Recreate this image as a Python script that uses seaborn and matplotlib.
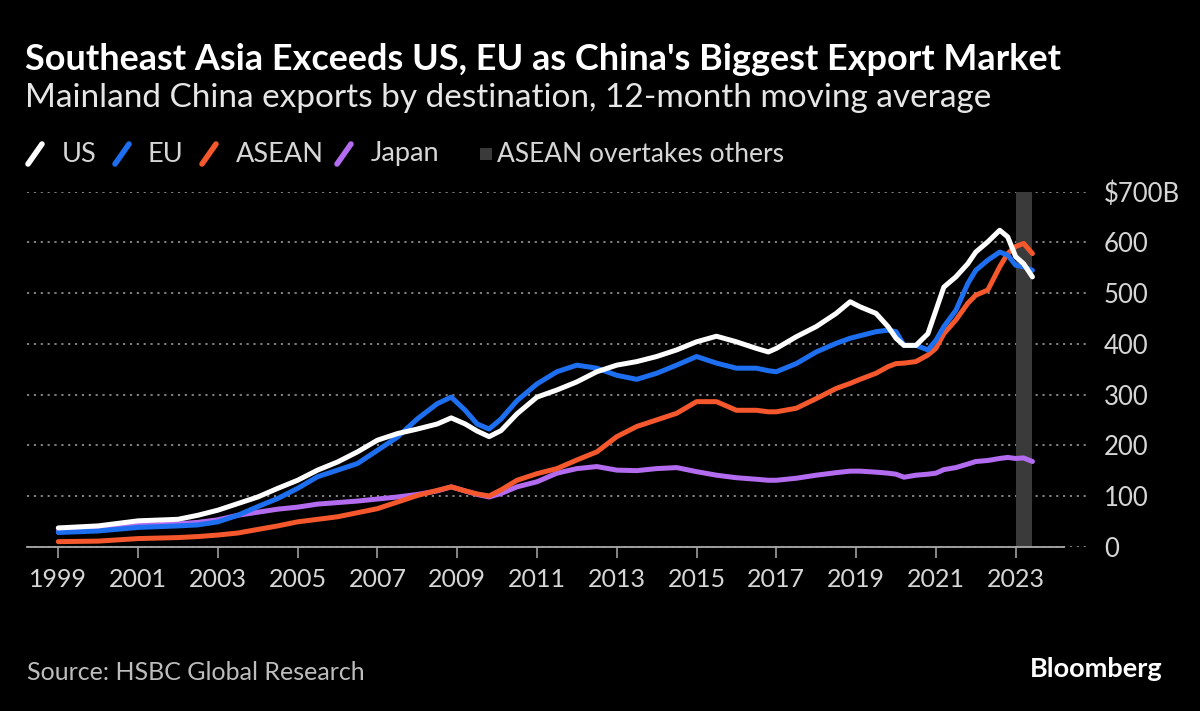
import numpy as np
import pandas as pd
import matplotlib
matplotlib.use("Agg")
import matplotlib.pyplot as plt
import seaborn as sns
from matplotlib.lines import Line2D
from matplotlib.patches import Rectangle

# ---- data ($B, 12-month moving average) ----
years = [1999.0, 2000.0, 2001.0, 2002.0, 2002.5, 2003.0, 2003.5, 2004.0, 2004.5, 2005.0,
         2005.5, 2006.0, 2006.5, 2007.0, 2007.5, 2008.0, 2008.5, 2008.85, 2009.2, 2009.5,
         2009.8, 2010.1, 2010.5, 2011.0, 2011.5, 2012.0, 2012.5, 2013.0, 2013.5, 2014.0,
         2014.5, 2015.0, 2015.5, 2016.0, 2016.5, 2016.8, 2017.0, 2017.5, 2018.0, 2018.5,
         2018.85, 2019.1, 2019.5, 2019.8, 2020.0, 2020.2, 2020.5, 2020.8, 2021.0, 2021.2,
         2021.5, 2021.8, 2022.0, 2022.3, 2022.6, 2022.8, 2023.0, 2023.2, 2023.42]

us = [37, 41, 51, 54, 62, 72, 85, 98, 115, 131,
      151, 167, 187, 210, 223, 232, 242, 254, 242, 228,
      217, 229, 262, 295, 309, 325, 345, 358, 365, 375,
      388, 404, 415, 404, 391, 384, 391, 414, 434, 460,
      483, 473, 460, 434, 411, 397, 397, 420, 466, 512,
      532, 558, 581, 601, 624, 611, 572, 558, 532]

eu = [28, 31, 38, 41, 43, 49, 62, 79, 95, 115,
      138, 151, 164, 190, 216, 252, 282, 295, 269, 242,
      232, 252, 288, 321, 345, 358, 352, 338, 330, 342,
      358, 375, 362, 352, 352, 347, 345, 361, 384, 401,
      411, 416, 424, 427, 424, 397, 397, 388, 407, 434,
      466, 519, 545, 565, 581, 575, 555, 552, 545]

asean = [10, 11, 16, 18, 20, 23, 27, 34, 41, 49,
         54, 59, 67, 75, 88, 101, 111, 118, 110, 104,
         100, 112, 131, 144, 154, 171, 187, 217, 237, 250,
         263, 286, 286, 269, 269, 266, 266, 273, 292, 312,
         322, 330, 342, 355, 361, 362, 365, 378, 391, 420,
         447, 480, 496, 506, 552, 578, 592, 598, 578]

japan = [30, 35, 42, 45, 48, 53, 62, 68, 74, 78,
         84, 87, 90, 94, 98, 103, 110, 118, 110, 103,
         98, 105, 118, 128, 145, 154, 158, 151, 150, 154,
         156, 148, 141, 136, 133, 131, 131, 135, 141, 146,
         149, 149, 147, 145, 143, 137, 141, 143, 145, 152,
         156, 163, 168, 170, 174, 176, 174, 175, 168]

labels = ["US", "EU", "ASEAN", "Japan"]
colors = {"US": "#ffffff", "EU": "#1e6ff0", "ASEAN": "#f4582c", "Japan": "#b36cf0"}
shade_label = "ASEAN overtakes others"
shade_span = (2023.0, 2023.42)
year_ticks = list(range(1999, 2024, 2))
value_ticks = [0, 100, 200, 300, 400, 500, 600, 700]
value_ticklabels = ["0", "100", "200", "300", "400", "500", "600", "$700B"]

df = pd.DataFrame({"year": years, "US": us, "EU": eu, "ASEAN": asean, "Japan": japan})
long = df.melt(id_vars="year", var_name="dest", value_name="value")

# ---- style ----
sns.set_theme(style="dark", rc={
    "figure.facecolor": "black", "axes.facecolor": "black",
    "savefig.facecolor": "black", "text.color": "white",
})
plt.rcParams["font.family"] = ["Lato", "DejaVu Sans"]

W, H = 1200, 711
fig = plt.figure(figsize=(W / 100, H / 100), dpi=100)


def px(x, y):
    return x / W, 1 - y / H


ax = fig.add_axes([26.7 / W, 1 - 546.7 / H, (1086 - 26.7) / W, 355 / H])

ax.axvspan(*shade_span, color="#3a3a3a", lw=0, zorder=1)
sns.lineplot(data=long, x="year", y="value", hue="dest",
             hue_order=["Japan", "ASEAN", "EU", "US"], palette=colors,
             estimator=None, sort=False, legend=False, lw=3.6, ax=ax, zorder=3)
for ln in ax.lines:
    ln.set_solid_capstyle("round")
    ln.set_solid_joinstyle("round")

ax.set_xlim(1998.208, 2024.763)
ax.set_ylim(0, 700)
ax.set_xlabel("")
ax.set_ylabel("")

ax.set_xticks(year_ticks)
ax.set_xticklabels([str(y) for y in year_ticks])
ax.set_yticks(value_ticks)
ax.set_yticklabels(value_ticklabels)
ax.yaxis.tick_right()
ax.tick_params(axis="y", length=0, pad=13, labelsize=18.5, labelcolor="#d6d6d6")
ax.tick_params(axis="x", length=8, width=1.1, color="#aaaaaa", direction="out",
               pad=7, labelsize=18, labelcolor="#d6d6d6", bottom=True)

ax.grid(axis="y", color="#8c8c8c", linestyle=(0, (1.2, 2.6)), lw=1.3, zorder=0)
ax.grid(axis="x", visible=False)
for s in ["top", "left", "right"]:
    ax.spines[s].set_visible(False)
ax.spines["bottom"].set_color("#aaaaaa")
ax.spines["bottom"].set_linewidth(1.3)
ax.spines["bottom"].set_bounds(1998.208, 2024.21)
ax.spines["bottom"].set_zorder(2)

# ---- titles ----
fig.text(*px(25, 70), "Southeast Asia Exceeds US, EU as China's Biggest Export Market",
         fontsize=25.9, fontweight="bold", color="white", va="baseline")
fig.text(*px(25, 107), "Mainland China exports by destination, 12-month moving average",
         fontsize=24, color="#e6e6e6", va="baseline")

# ---- legend ----
leg_y = 154
icon_x = [28, 115, 202, 337]
text_x = [62, 148, 236, 371]
for lab, ix, tx in zip(labels, icon_x, text_x):
    x0, y0 = px(ix, leg_y + 10)
    x1, y1 = px(ix + 14, leg_y - 10)
    fig.add_artist(Line2D([x0, x1], [y0, y1], transform=fig.transFigure,
                          color=colors[lab], lw=4, solid_capstyle="round"))
    fig.text(*px(tx, leg_y), lab, fontsize=19.5, color="#d6d6d6", va="center")
sx, sy = px(480, leg_y + 6)
fig.add_artist(Rectangle((sx, sy), 12 / W, 12 / H, transform=fig.transFigure,
                         facecolor="#3a3a3a", edgecolor="none"))
fig.text(*px(497, leg_y), shade_label, fontsize=19, color="#d6d6d6", va="center")

# ---- footer ----
fig.text(*px(27, 673), "Source: HSBC Global Research", fontsize=18, color="#bdbdbd", va="center")
fig.text(*px(1163, 669), "Bloomberg", fontsize=19.5, fontweight="bold", color="white",
         va="center", ha="right")

fig.savefig("out.png", dpi=100, facecolor="black")
